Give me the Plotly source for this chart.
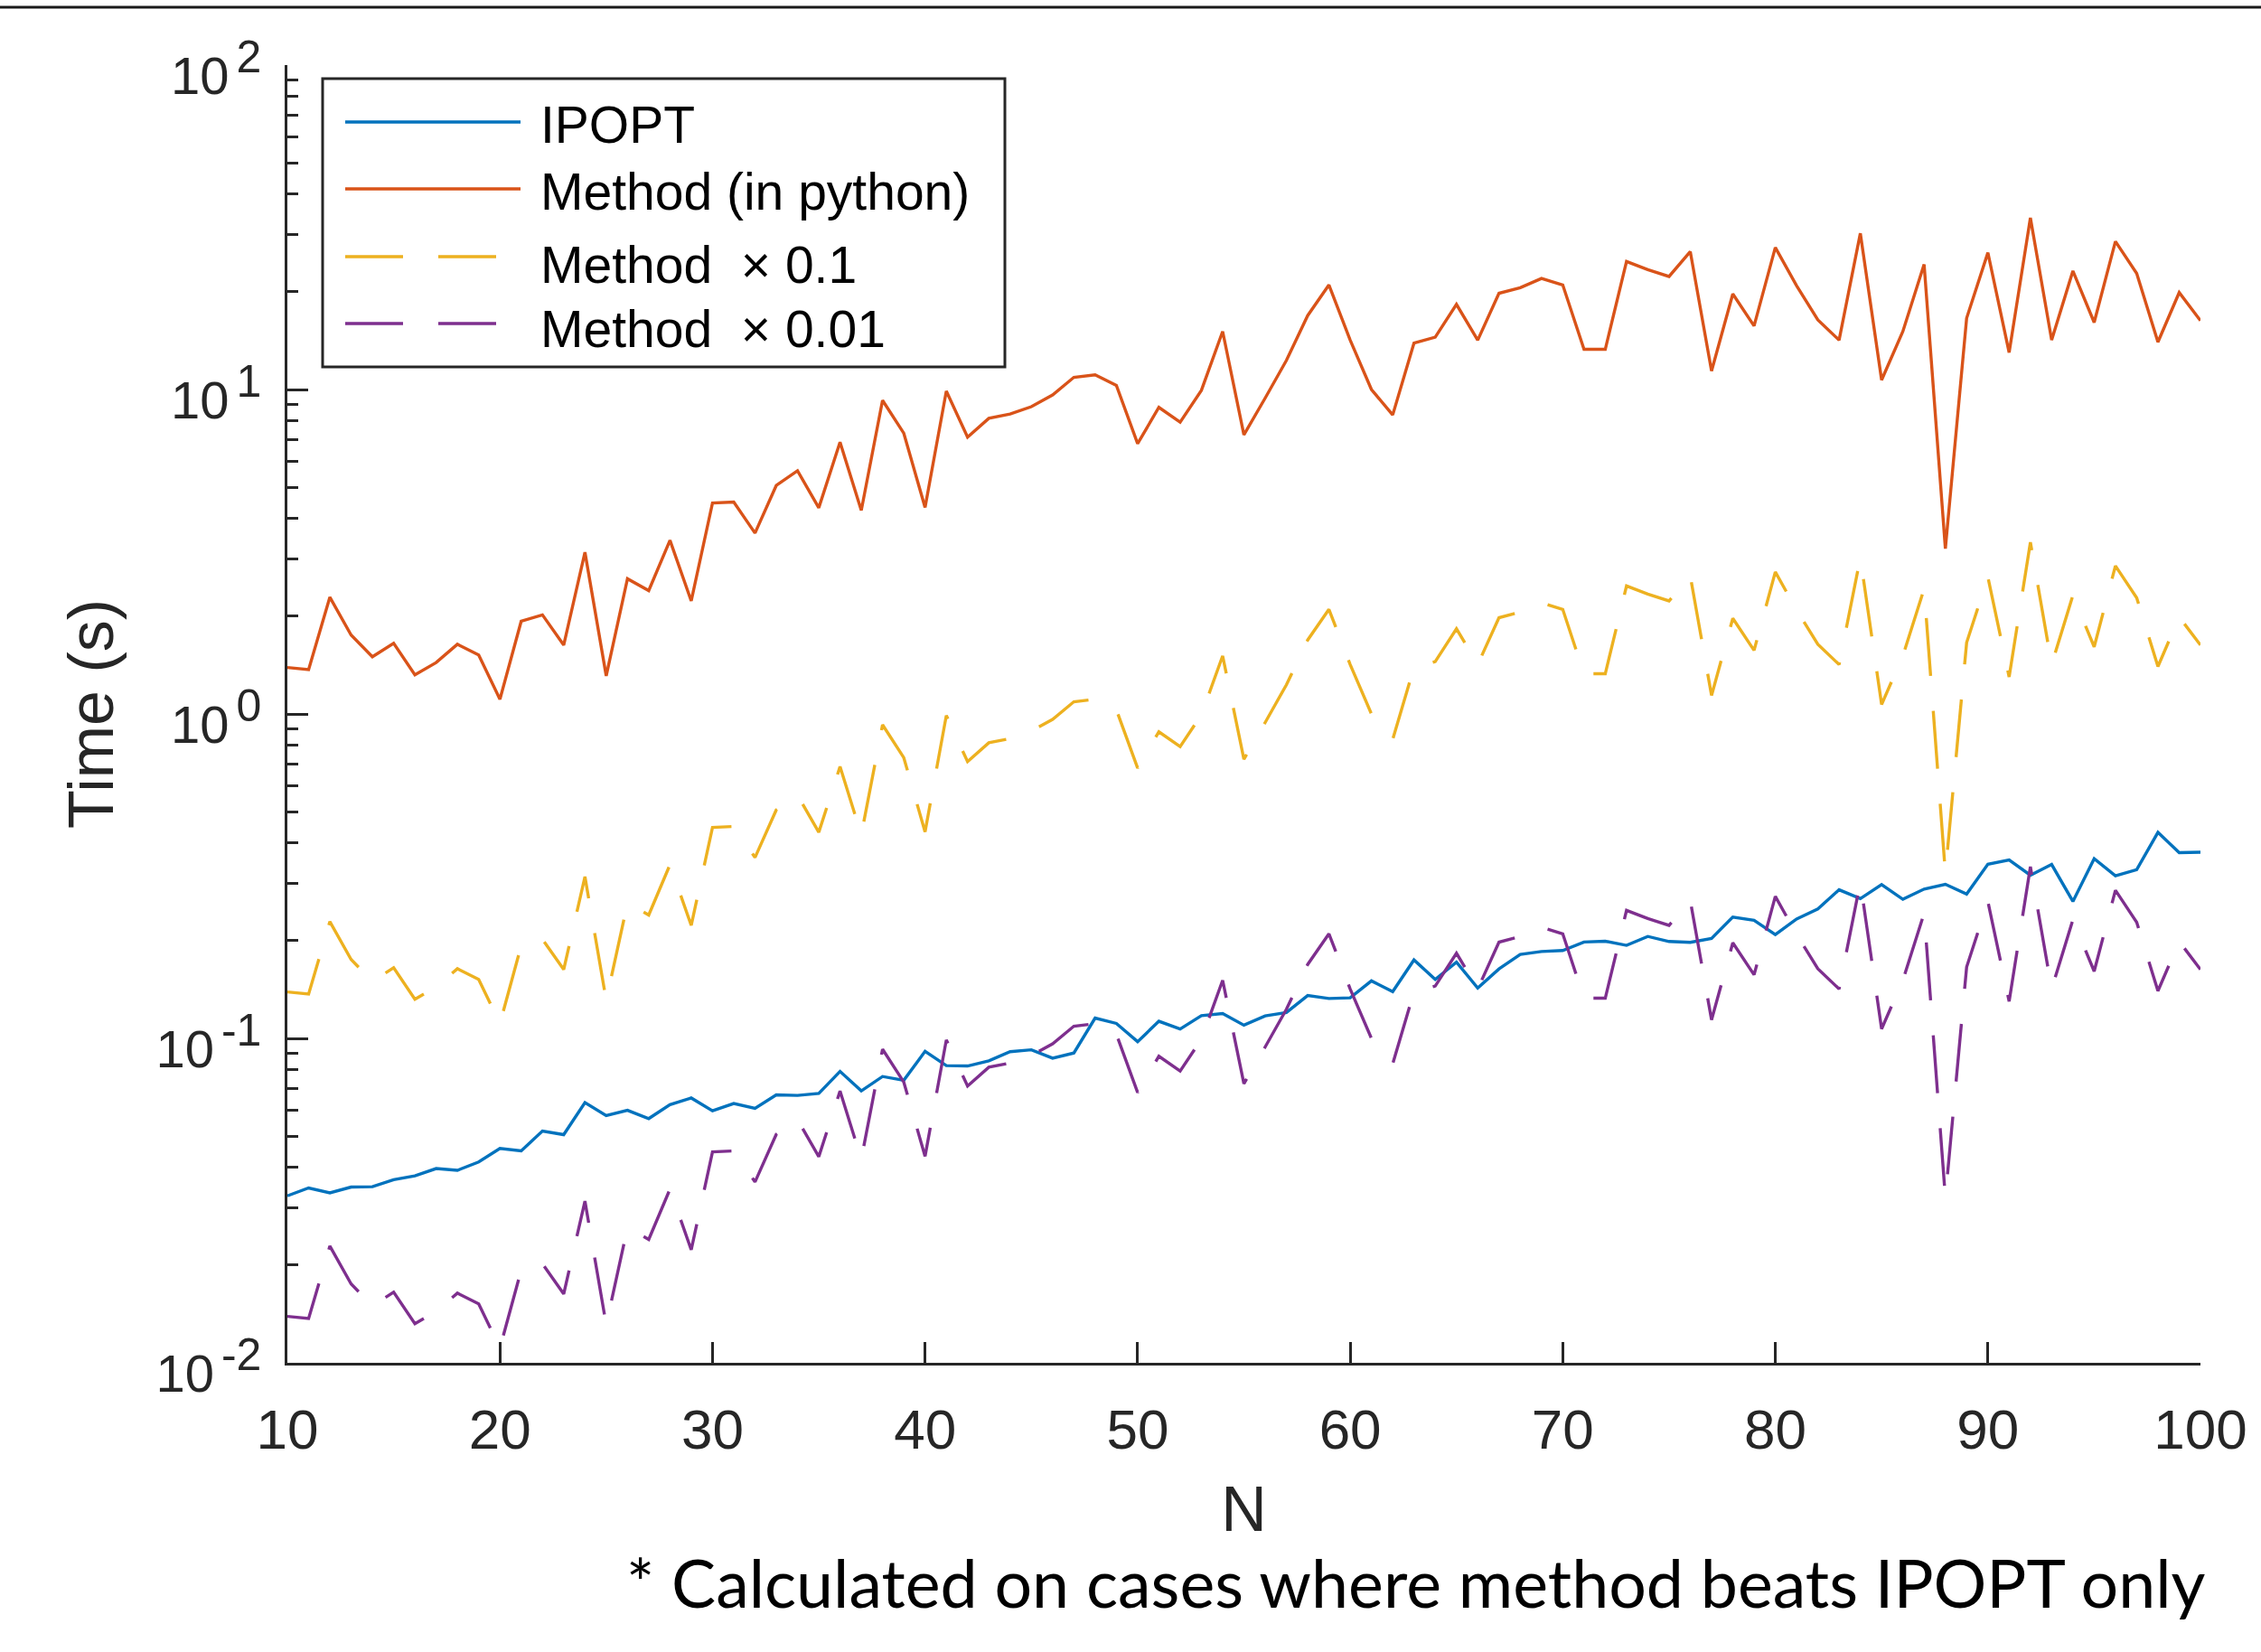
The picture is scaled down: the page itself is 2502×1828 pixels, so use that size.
import plotly.graph_objects as go

# ---------------- data ----------------
N = list(range(10, 101))

ipopt = [0.0327, 0.0346, 0.0334, 0.0348, 0.0349, 0.0367, 0.0377, 0.0397, 0.0392, 0.0416,
         0.0458, 0.0450, 0.0518, 0.0505, 0.0634, 0.0578, 0.0600, 0.0566, 0.0625, 0.0655,
         0.0598, 0.0630, 0.0609, 0.0670, 0.0667, 0.0677, 0.0791, 0.0689, 0.0763, 0.0743,
         0.0912, 0.0824, 0.0822, 0.0853, 0.0910, 0.0922, 0.0869, 0.0901, 0.1155, 0.1112,
         0.0977, 0.1129, 0.1069, 0.1175, 0.1193, 0.1098, 0.1173, 0.1202, 0.1355, 0.1327,
         0.1333, 0.1504, 0.1393, 0.1745, 0.1520, 0.1717, 0.1430, 0.1637, 0.1814, 0.1853,
         0.1866, 0.1981, 0.1993, 0.1935, 0.2062, 0.1989, 0.1977, 0.2033, 0.2366, 0.2311,
         0.2088, 0.2333, 0.2507, 0.2871, 0.2696, 0.2977, 0.2684, 0.2885, 0.2985, 0.2784,
         0.3441, 0.3548, 0.3184, 0.3436, 0.2644, 0.3580, 0.3171, 0.3312, 0.4314, 0.3735,
         0.3749]

method = [1.39, 1.37, 2.29, 1.75, 1.50, 1.65, 1.32, 1.44, 1.64, 1.52,
          1.11, 1.93, 2.02, 1.63, 3.15, 1.31, 2.61, 2.40, 3.43, 2.23,
          4.47, 4.50, 3.61, 5.06, 5.62, 4.32, 6.88, 4.24, 9.26, 7.33,
          4.33, 9.89, 7.13, 8.15, 8.40, 8.85, 9.62, 10.9, 11.1, 10.3,
          6.81, 8.81, 7.93, 9.94, 15.1, 7.25, 9.41, 12.3, 16.9, 21.0,
          14.2, 10.0, 8.35, 13.9, 14.5, 18.3, 14.2, 19.8, 20.6, 22.0,
          21.0, 13.3, 13.3, 24.8, 23.4, 22.3, 26.6, 11.4, 19.7, 15.7,
          27.4, 20.9, 16.4, 14.2, 30.3, 10.7, 15.1, 24.3, 3.23, 16.6,
          26.4, 13.0, 33.8, 14.2, 23.2, 16.1, 28.6, 22.8, 14.0, 19.9,
          16.3]

factor_a = 0.1
factor_b = 0.01
method_a = [v * factor_a for v in method]   # "Method x 0.1"
method_b = [v * factor_b for v in method]   # "Method x 0.01"

series_names = ["IPOPT", "Method (in python)", "Method \u00a0\u00d7 0.1", "Method \u00a0\u00d7 0.01"]

ytick_vals = [0.01, 0.1, 1, 10, 100]
ytick_exps = ["-2", "-1", "0", "1", "2"]
xtick_vals = [10, 20, 30, 40, 50, 60, 70, 80, 90, 100]
footnote = "* Calculated on cases where method beats IPOPT only"

# ---------------- style ----------------
W, H = 2502, 1828
L, R, T, B = 318, 2435, 72, 1508          # plot area in pixels
C_BLUE, C_ORANGE, C_YELLOW, C_PURPLE = "#0072BD", "#D95319", "#EDB120", "#7E2F8E"
AX = "#262626"
FONT = "Liberation Sans, Arial, Helvetica, sans-serif"
DASH = "64px,39px"
LW = 3.4

ytick_text = ["10<span style='font-size:40px'>\u2009</span><sup><span style='font-size:50px'>%s</span></sup>" % e
              for e in ytick_exps]


def px2x(px):
    return (px - L) / (R - L)


def py2y(py):
    return (B - py) / (B - T)


fig = go.Figure()
fig.add_trace(go.Scatter(x=N, y=ipopt, mode="lines", name=series_names[0],
                         line=dict(color=C_BLUE, width=LW)))
fig.add_trace(go.Scatter(x=N, y=method, mode="lines", name=series_names[1],
                         line=dict(color=C_ORANGE, width=LW)))
fig.add_trace(go.Scatter(x=N, y=method_a, mode="lines", name=series_names[2],
                         line=dict(color=C_YELLOW, width=LW, dash=DASH)))
fig.add_trace(go.Scatter(x=N, y=method_b, mode="lines", name=series_names[3],
                         line=dict(color=C_PURPLE, width=LW, dash=DASH)))

minor_vals = [k * 10 ** e for e in range(-2, 2) for k in range(2, 10)]

fig.update_layout(
    width=W, height=H, autosize=False,
    margin=dict(l=L, r=W - R, t=T, b=H - B, pad=0),
    paper_bgcolor="white", plot_bgcolor="white",
    showlegend=False,
    font=dict(family=FONT, color=AX),
    xaxis=dict(
        range=[10, 100], tickmode="array", tickvals=xtick_vals,
        ticks="inside", ticklen=23, tickwidth=2.5, tickcolor=AX,
        showline=True, linecolor=AX, linewidth=3, mirror=False,
        showgrid=False, zeroline=False,
        tickfont=dict(size=62, color=AX, family=FONT),
        ticklabelstandoff=18,
        title=dict(text="N", font=dict(size=70, color=AX, family=FONT), standoff=30),
    ),
    yaxis=dict(
        type="log", range=[-2, 2], tickmode="array", tickvals=ytick_vals, ticktext=ytick_text,
        ticks="inside", ticklen=23, tickwidth=2.5, tickcolor=AX,
        minor=dict(tickmode="array", tickvals=minor_vals, ticks="inside", ticklen=12,
                   tickwidth=2.5, tickcolor=AX, showgrid=False),
        showline=True, linecolor=AX, linewidth=3, mirror=False,
        showgrid=False, zeroline=False,
        tickfont=dict(size=58, color=AX, family=FONT),
        ticklabelstandoff=14, ticklabelshift=12, ticklabeloverflow="allow",
        title=dict(text="Time (s)", font=dict(size=70, color=AX, family=FONT), standoff=24),
    ),
)

shapes = []
# top rule across the page
shapes.append(dict(type="line", xref="paper", yref="paper",
                   x0=px2x(0), x1=px2x(W), y0=py2y(8), y1=py2y(8),
                   line=dict(color="#1a1a1a", width=3), layer="above"))
# legend box
shapes.append(dict(type="rect", xref="paper", yref="paper",
                   x0=px2x(357), x1=px2x(1112), y0=py2y(87), y1=py2y(406),
                   fillcolor="white", line=dict(color=AX, width=3), layer="above"))
leg_rows = [135, 209, 284, 358]
leg_text_off = [3, 3, 9, 6]
leg_cols = [C_BLUE, C_ORANGE, C_YELLOW, C_PURPLE]
leg_dash = ["solid", "solid", DASH, DASH]
for yy, cc, dd in zip(leg_rows, leg_cols, leg_dash):
    shapes.append(dict(type="line", xref="paper", yref="paper",
                       x0=px2x(382), x1=px2x(576), y0=py2y(yy), y1=py2y(yy),
                       line=dict(color=cc, width=LW, dash=dd), layer="above"))
fig.update_layout(shapes=shapes)

annotations = []
for yy, off, name in zip(leg_rows, leg_text_off, series_names):
    annotations.append(dict(text=name, xref="paper", yref="paper",
                            x=px2x(596), y=py2y(yy + off), xanchor="left", yanchor="middle",
                            showarrow=False, font=dict(size=57, color="black", family=FONT)))
annotations.append(dict(text=footnote, xref="paper", yref="paper",
                        x=px2x(2443), y=py2y(1750), xanchor="right", yanchor="middle",
                        showarrow=False, font=dict(size=73.5, color="black", family="Lato, Open Sans, sans-serif")))
fig.update_layout(annotations=annotations)

fig.write_html("out.html", config={"displayModeBar": False},
               post_script="document.body.style.margin='0';")
